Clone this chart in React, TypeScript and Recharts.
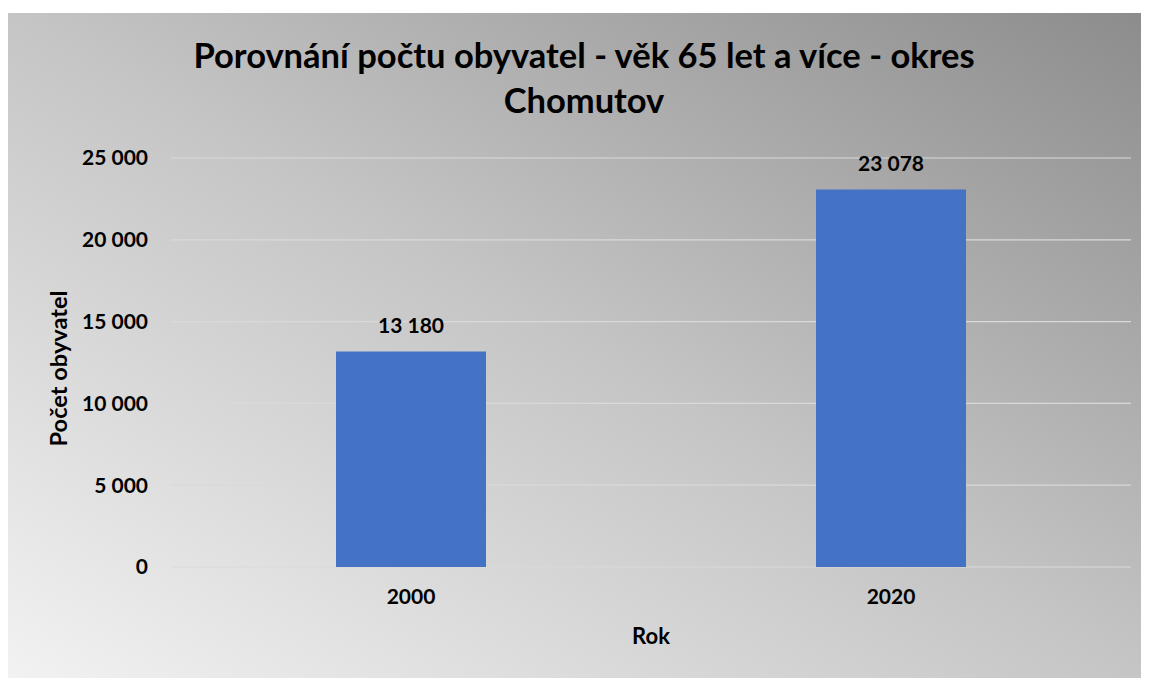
import React from 'react';
import { BarChart, Bar, XAxis, YAxis, CartesianGrid, LabelList } from 'recharts';

const years = ['2000', '2020'];
const population = [13180, 23078];
const yTicks = [0, 5000, 10000, 15000, 20000, 25000];

const data = years.map((year, i) => ({ year, value: population[i] }));

const FONT = 'Lato, "Open Sans", sans-serif';

// thousands separated by a space, e.g. 23 078
const fmt = (v: number) => String(v).replace(/\B(?=(\d{3})+(?!\d))/g, ' ');

export default function App() {
  return (
    <div
      style={{
        position: 'relative',
        marginTop: 5,
        width: 1141,
        height: 665,
        background: 'linear-gradient(to top right, #f2f2f2 0%, #c5c5c5 50%, #8c8c8c 100%)',
        fontFamily: FONT,
      }}
    >
      <div
        style={{
          position: 'absolute',
          left: 0,
          top: 19,
          width: 1152,
          textAlign: 'center',
          fontSize: 34.5,
          lineHeight: '45px',
          fontWeight: 700,
          color: '#000',
        }}
      >
        Porovnání počtu obyvatel - věk 65 let a více - okres
        <br />
        Chomutov
      </div>
      <BarChart
        width={1141}
        height={665}
        data={data}
        margin={{ top: 145, right: 18, bottom: 21, left: 63 }}
        style={{ position: 'absolute', left: 0, top: 0 }}
      >
        <CartesianGrid horizontal vertical={false} stroke="#d9d9d9" strokeWidth={1.2} />
        <XAxis
          dataKey="year"
          axisLine={false}
          tickLine={false}
          tickSize={0}
          tickMargin={22}
          height={90}
          tick={{ fill: '#000', fontSize: 21, fontWeight: 700, fontFamily: FONT }}
          label={{
            content: ({ viewBox }: any) => (
              <text
                x={viewBox.x + viewBox.width / 2}
                y={viewBox.y + 77}
                textAnchor="middle"
                fill="#000"
                fontSize={22}
                fontWeight={700}
                fontFamily={FONT}
              >
                Rok
              </text>
            ),
          }}
        />
        <YAxis
          domain={[0, 25000]}
          ticks={yTicks}
          width={100}
          axisLine={false}
          tickLine={false}
          tickSize={0}
          tickMargin={23}
          tickFormatter={fmt}
          tick={{ fill: '#000', fontSize: 21, fontWeight: 700, fontFamily: FONT }}
          label={{
            content: ({ viewBox }: any) => {
              const x = viewBox.x - 4;
              const y = viewBox.y + viewBox.height / 2 + 6;
              return (
                <text
                  x={x}
                  y={y}
                  transform={`rotate(-90 ${x} ${y})`}
                  textAnchor="middle"
                  fill="#000"
                  fontSize={23.6}
                  fontWeight={700}
                  fontFamily={FONT}
                >
                  Počet obyvatel
                </text>
              );
            },
          }}
        />
        <Bar dataKey="value" fill="#4472C4" barSize={150} isAnimationActive={false}>
          <LabelList
            dataKey="value"
            position="top"
            offset={18}
            formatter={(v: any) => fmt(Number(v))}
            style={{ fill: '#000', fontSize: 21, fontWeight: 700, fontFamily: FONT }}
          />
        </Bar>
      </BarChart>
    </div>
  );
}
